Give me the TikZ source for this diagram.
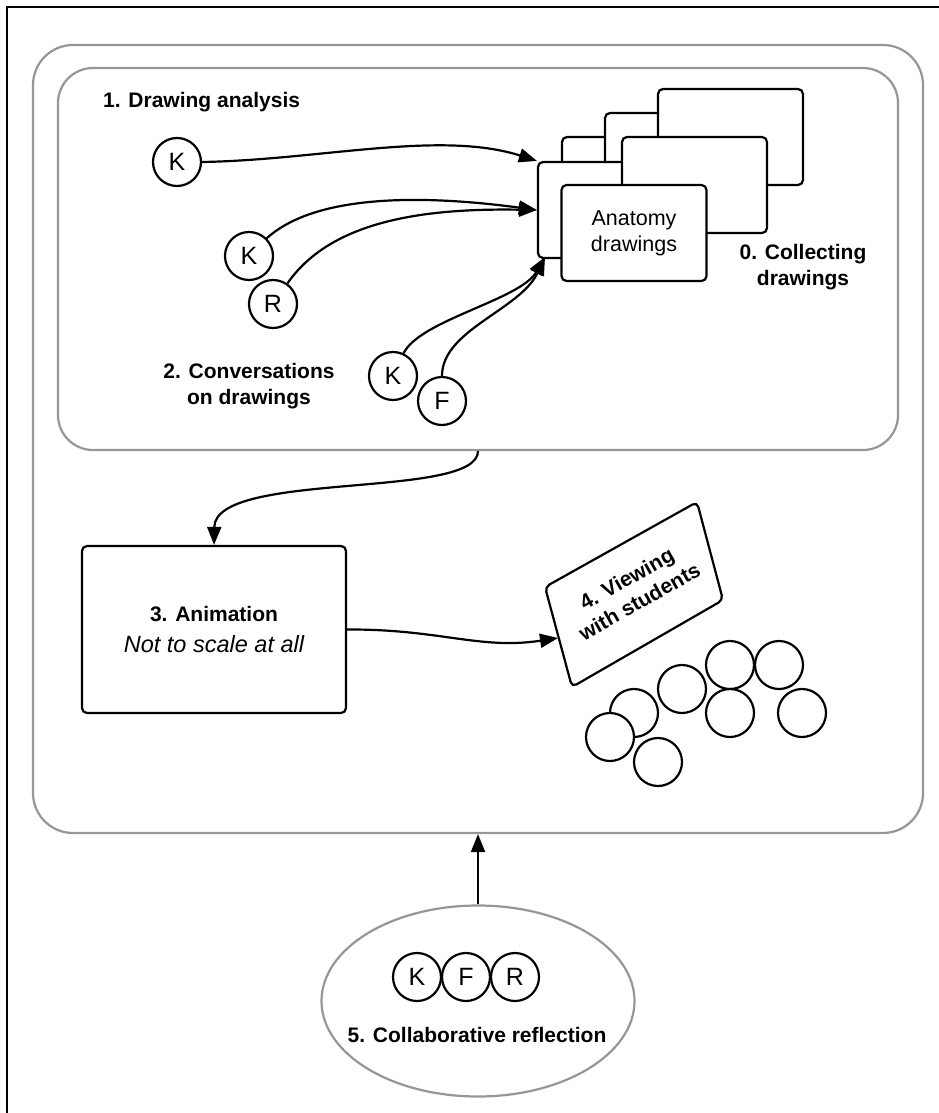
\documentclass[tikz,border=0pt]{standalone}
\usepackage{fontspec}
\setmainfont{Liberation Sans}
\usepackage{tikz}
\usetikzlibrary{arrows.meta}
\usetikzlibrary{shapes.geometric}

\definecolor{panelgray}{RGB}{150,150,150}

\tikzset{
  person/.style={draw, circle, line width=2.2pt, minimum size=48pt, inner sep=0pt, fill=white, font=\fontsize{25}{30}\selectfont},
  sheet/.style={draw, line width=2.2pt, rounded corners=5pt, fill=white, minimum width=145pt, minimum height=96pt, inner sep=0pt, align=center, font=\fontsize{21.5}{26}\selectfont},
  panel/.style={draw=panelgray, line width=2.2pt, inner sep=0pt},
  steplabel/.style={font=\fontsize{21}{26}\selectfont\bfseries, align=center, inner sep=0pt},
  flow/.style={line width=2.2pt, -{Triangle[length=18pt,width=14pt]}},
}

\begin{document}
\begin{tikzpicture}[x=1pt, y=1pt]
    \useasboundingbox (0,0) rectangle (939,-1113);
    \draw [line width=2pt] (7,-1113) -- (7,-7) -- (939,-7);
    \node [panel, rounded corners=40pt, minimum width=890pt, minimum height=788pt] (outer) at (478,-439) {};
    \node [panel, rounded corners=35pt, minimum width=840pt, minimum height=382pt] (inner) at (478,-259) {};
    \node [steplabel, anchor=west] (analysis) at (103,-102) {1. Drawing analysis};
    % stack of drawings, back to front
    \foreach \n/\x/\y in {C/634.5/-185, B/677.5/-161, A/730.5/-137, D/610.5/-210, E/694.5/-185}
        \node [sheet] (sheet\n) at (\x,\y) {};
    \node [sheet] (sheetF) at (634,-233) {Anatomy\\drawings};
    \node [steplabel] (collecting) at (803,-267) {0. Collecting\\drawings};
    % people
    \node [person] (k1) at (177,-162) {K};
    \node [person] (k2) at (249,-256) {K};
    \node [person] (r2) at (273,-304) {R};
    \node [person] (k3) at (393,-376) {K};
    \node [person] (f3) at (442,-401) {F};
    \node [steplabel] (conversations) at (249,-386) {2. Conversations\\on drawings};
    \coordinate (lowtip) at (545,-257);
    \draw [flow] (k1.east) .. controls (320,-160) and (440,-130) .. (sheetD.north west);
    \draw [flow] (k2.45) .. controls (320,-190) and (440,-197) .. (sheetD.west);
    \draw [flow] (r2.55) .. controls (330,-222) and (420,-208) .. (sheetD.west);
    \draw [flow] (k3.65) .. controls (420,-320) and (520,-300) .. (lowtip);
    \draw [flow] (f3.north) .. controls (442,-330) and (520,-310) .. (lowtip);
    % animation
    \node [draw, line width=2.2pt, rounded corners=5pt, minimum width=264pt, minimum height=167pt, align=center, font=\fontsize{21}{31}\selectfont] (anim) at (214,-629.5)
        {\textbf{3. Animation}\\{\fontsize{23.5}{31}\selectfont\itshape Not to scale at all}};
    \draw [flow] (inner.south) .. controls (478,-500) and (215,-470) .. (anim.north);
    % viewing
    \draw [line width=2.2pt, rounded corners=5pt, fill=white] (545,-587) -- (697,-502) -- (723,-600) -- (572,-687) -- cycle;
    \node [steplabel, rotate=29.4] (viewing) at (633,-590) {4. Viewing\\with students};
    \coordinate (view) at (558,-638);
    \draw [flow] (anim.east) .. controls (440,-629) and (480,-650) .. (view);
    \foreach \x/\y [count=\i] in {634/-713, 610/-737, 658/-762, 682/-689, 730/-665, 779/-665, 730/-713, 802/-713}
        \node [draw, circle, line width=2.2pt, minimum size=48pt, inner sep=0pt, fill=white] (student\i) at (\x,\y) {};
    % reflection
    \node [draw=panelgray, line width=2.2pt, ellipse, minimum width=313pt, minimum height=191pt, inner sep=0pt] (reflect) at (478,-1001) {};
    \node [person] (kr) at (417,-977) {K};
    \node [person] (fr) at (466,-977) {F};
    \node [person] (rr) at (515,-977) {R};
    \node [steplabel] (collab) at (477,-1035) {5. Collaborative reflection};
    \draw [flow] (reflect.north) -- (outer.south);
\end{tikzpicture}
\end{document}
